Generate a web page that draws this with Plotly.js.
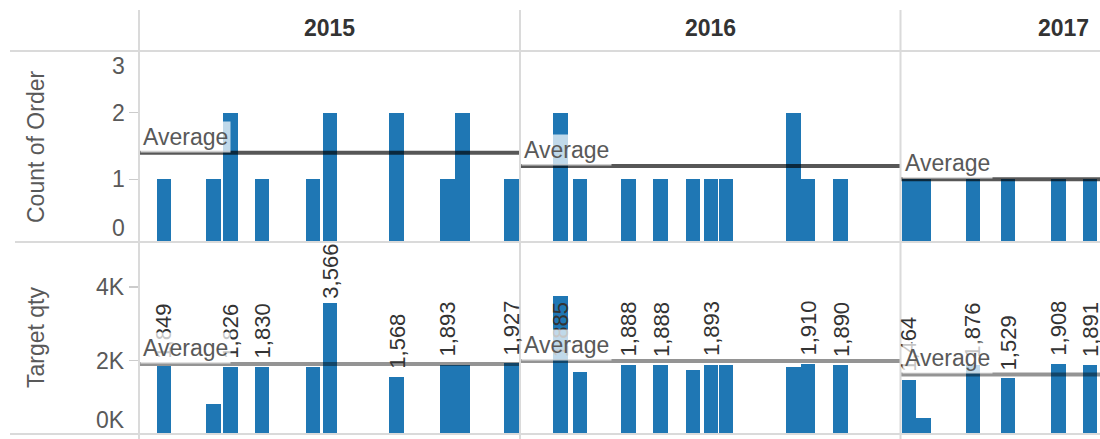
<!DOCTYPE html>
<html><head><meta charset="utf-8">
<script src="https://cdn.plot.ly/plotly-3.0.1.min.js"></script>
<style>html,body{margin:0;padding:0;background:#fff}#chart{width:1100px;height:439px}</style>
</head><body><div id="chart"></div>
<script>
// ---- data ----
const years = ['2015', '2016', '2017'];
// bar position inside each year, in weeks from 1 January
const pos2015 = [3.41, 10.13, 12.45, 16.79, 23.77, 26.09, 35.17, 42.10, 44.15, 50.88];
const count2015 = [1, 1, 2, 1, 1, 2, 2, 1, 2, 1];
const target2015 = [1849, 820, 1826, 1830, 1840, 3566, 1568, 1893, 1890, 1927];
const labelShown2015 = [1, 0, 1, 1, 0, 1, 1, 1, 0, 1];

const pos2016 = [5.57, 5.57, 8.19, 14.77, 19.21, 23.61, 26.07, 28.12, 37.30, 39.33, 43.78];
const count2016 = [1, 1, 1, 1, 1, 1, 1, 1, 2, 1, 1];
const target2016 = [1885, 1870, 1690, 1888, 1888, 1750, 1893, 1895, 1840, 1910, 1890];
const labelShown2016 = [1, 0, 0, 1, 1, 0, 1, 0, 0, 1, 1];

const pos2017 = [1.16, 3.17, 9.89, 14.67, 21.52, 25.86];
const count2017 = [1, 1, 1, 1, 1, 1];
const target2017 = [1464, 450, 1876, 1529, 1908, 1891];
const labelShown2017 = [1, 0, 1, 1, 1, 1];

const avgCount = [1.4, 1.2, 1.0];
const avgTarget = [1910, 1990, 1625];

const countTickVals = [0, 1, 2, 3];
const countTickText = ['0', '1', '2', '3'];
const targetTickVals = [0, 2000, 4000];
const targetTickText = ['0K', '2K', '4K'];

const rowTitles = ['Count of Order', 'Target qty'];
const avgLabel = 'Average';

// ---- layout helpers ----
const W = 1100, H = 439;
const FONT = '"Liberation Sans", Arial, Helvetica, sans-serif';
const BLUE = '#1f77b4';
const GRID = '#dadada';
const px = v => v / W, py = v => 1 - v / H;
const paneX = [[139, 520], [520, 900.5], [900.5, 1100]];
const pxPerWeek = 381 / 52;
const xRanges = paneX.map(p => [0, (p[1] - p[0]) / pxPerWeek]);
const topPane = [52, 242], botPane = [242, 434.1];
const countRange = [0.06, 2.91];
const targetRange = [0, 5230];
const barWidth = 2.0;

const yearData = [
  {pos: pos2015, count: count2015, target: target2015, shown: labelShown2015},
  {pos: pos2016, count: count2016, target: target2016, shown: labelShown2016},
  {pos: pos2017, count: count2017, target: target2017, shown: labelShown2017}
];
const xName = i => i === 0 ? 'x' : 'x' + (i + 1);

const traces = [];
yearData.forEach((d, i) => {
  traces.push({type: 'bar', x: d.pos, y: d.count, width: barWidth, xaxis: xName(i), yaxis: 'y2',
    marker: {color: BLUE, line: {width: 0}}, hoverinfo: 'skip', showlegend: false});
  traces.push({type: 'bar', x: d.pos, y: d.target, width: barWidth, xaxis: xName(i), yaxis: 'y',
    marker: {color: BLUE, line: {width: 0}}, hoverinfo: 'skip', showlegend: false});
});

const annotations = [];
const shapes = [];

// bar labels (rotated), stacked tops computed from data
const LABEL_FS = 22;
const ppuTarget = (botPane[1] - botPane[0]) / (targetRange[1] - targetRange[0]);
function textLen(s, fs) {
  let em = 0;
  for (const c of s) em += (c === ',' ? 0.278 : 0.556);
  return em * fs;
}
yearData.forEach((d, i) => {
  const cum = {};
  d.pos.forEach((p, k) => {
    const base = cum[p] || 0;
    const top = base + d.target[k];
    cum[p] = top;
    if (!d.shown[k]) return;
    const txt = d.target[k].toLocaleString('en-US');
    const need = 8 + textLen(txt, LABEL_FS) + 2;
    const avail = (targetRange[1] - top) * ppuTarget;
    const a = {xref: xName(i), yref: 'y', x: p, text: txt, showarrow: false, textangle: -90,
      font: {family: FONT, size: LABEL_FS, color: '#333333'}, xanchor: 'center', borderpad: 0};
    if (need > avail) { a.y = targetRange[1]; a.yanchor = 'top'; a.yshift = -1; }
    else { a.y = top; a.yanchor = 'bottom'; a.yshift = 7; }
    annotations.push(a);
  });
});

// average lines and labels
years.forEach((yr, i) => {
  shapes.push({type: 'line', xref: xName(i), yref: 'y2', x0: xRanges[i][0], x1: xRanges[i][1],
    y0: avgCount[i], y1: avgCount[i], line: {color: 'rgba(0,0,0,0.66)', width: 4}, layer: 'above'});
  shapes.push({type: 'line', xref: xName(i), yref: 'y', x0: xRanges[i][0], x1: xRanges[i][1],
    y0: avgTarget[i], y1: avgTarget[i], line: {color: 'rgba(0,0,0,0.42)', width: 4}, layer: 'above'});
  [['y2', avgCount[i]], ['y', avgTarget[i]]].forEach(([yr2, v]) => {
    annotations.push({xref: xName(i), yref: yr2, x: xRanges[i][0], y: v, xanchor: 'left', yanchor: 'bottom',
      xshift: 1, yshift: 0, text: avgLabel, showarrow: false, bgcolor: 'rgba(255,255,255,0.72)', borderpad: 2,
      font: {family: FONT, size: 23, color: '#595959'}});
  });
});

// year headers
const headerX = [329.5, 710, 1063];
years.forEach((yr, i) => {
  annotations.push({xref: 'paper', yref: 'paper', x: px(headerX[i]), y: py(28), text: '<b>' + yr + '</b>',
    showarrow: false, xanchor: 'center', yanchor: 'middle', font: {family: FONT, size: 23, color: '#333333'}});
});

// row titles
annotations.push({xref: 'paper', yref: 'paper', x: px(36), y: py((topPane[0] + topPane[1]) / 2), text: rowTitles[0],
  textangle: -90, showarrow: false, xanchor: 'center', yanchor: 'middle', font: {family: FONT, size: 23, color: '#595959'}});
annotations.push({xref: 'paper', yref: 'paper', x: px(36), y: py((botPane[0] + botPane[1]) / 2), text: rowTitles[1],
  textangle: -90, showarrow: false, xanchor: 'center', yanchor: 'middle', font: {family: FONT, size: 23, color: '#595959'}});

// tick labels, kept inside each pane at the edges
function tickLabels(vals, texts, range, yref) {
  vals.forEach((v, k) => {
    const a = {xref: 'paper', yref: yref, x: px(126), text: texts[k], showarrow: false, xanchor: 'right',
      font: {family: FONT, size: 23, color: '#595959'}, borderpad: 0};
    if (v <= range[0]) { a.y = range[0]; a.yanchor = 'bottom'; }
    else if (v >= range[1]) { a.y = range[1]; a.yanchor = 'top'; }
    else { a.y = v; a.yanchor = 'middle'; }
    annotations.push(a);
  });
}
tickLabels(countTickVals, countTickText, countRange, 'y2');
tickLabels(targetTickVals, targetTickText, targetRange, 'y');

// table borders
const hLines = [[51, 10], [242, 15], [434.1, 10]];
hLines.forEach(([y, x0]) => shapes.push({type: 'line', xref: 'paper', yref: 'paper', x0: px(x0), x1: 1,
  y0: py(y), y1: py(y), line: {color: GRID, width: 2}, layer: 'above'}));
[139, 520, 900.5].forEach(x => shapes.push({type: 'line', xref: 'paper', yref: 'paper', x0: px(x), x1: px(x),
  y0: py(10), y1: 0, line: {color: GRID, width: 2}, layer: 'above'}));

const layout = {
  width: W, height: H, margin: {l: 0, r: 0, t: 0, b: 0}, paper_bgcolor: '#fff', plot_bgcolor: 'rgba(0,0,0,0)',
  barmode: 'stack', bargap: 0, showlegend: false, font: {family: FONT},
  annotations: annotations, shapes: shapes,
  yaxis: {domain: [py(botPane[1]), py(botPane[0])], range: targetRange, anchor: 'x', tickvals: targetTickVals,
    ticks: 'outside', ticklen: 9, tickwidth: 1.5, tickcolor: '#cccccc', showticklabels: false,
    showgrid: false, zeroline: false, showline: false, fixedrange: true},
  yaxis2: {domain: [py(topPane[1]), py(topPane[0])], range: countRange, anchor: 'x', tickvals: countTickVals,
    ticks: 'outside', ticklen: 9, tickwidth: 1.5, tickcolor: '#cccccc', showticklabels: false,
    showgrid: false, zeroline: false, showline: false, fixedrange: true}
};
years.forEach((yr, i) => {
  layout[i === 0 ? 'xaxis' : 'xaxis' + (i + 1)] = {domain: [px(paneX[i][0]), px(paneX[i][1])], range: xRanges[i],
    anchor: 'y', visible: false, showgrid: false, zeroline: false, fixedrange: true};
});

Plotly.newPlot('chart', traces, layout, {staticPlot: true, displayModeBar: false});
</script></body></html>
